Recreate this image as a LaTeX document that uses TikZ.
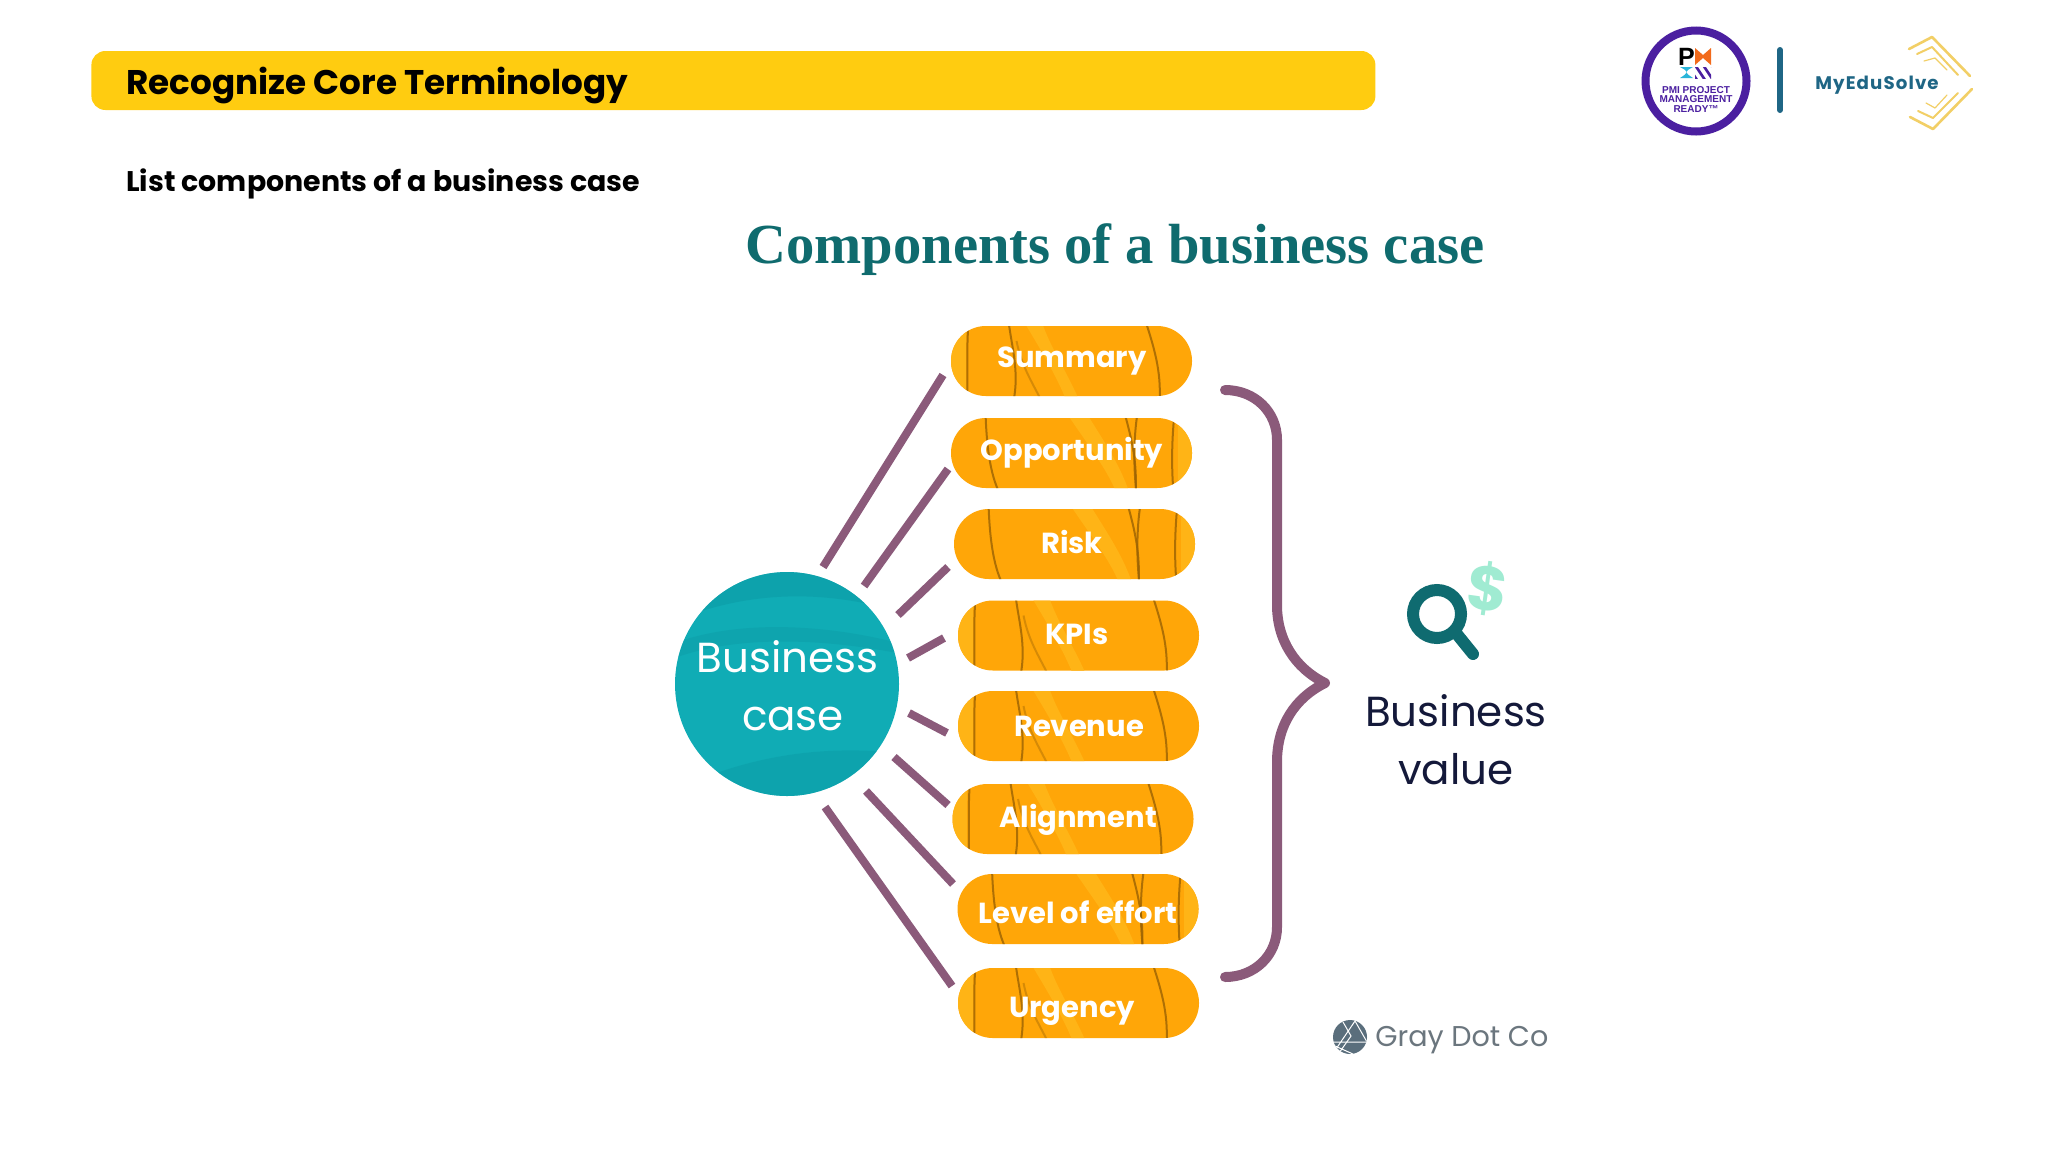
\documentclass[tikz,border=0pt]{standalone}
\usepackage{fontspec}
\setmainfont{Poppins}
\newfontfamily\serifhead{Liberation Serif}
\newfontfamily\arialish{Liberation Sans}
\newfontfamily\spaced[LetterSpace=6]{Poppins}
\definecolor{barY}{HTML}{FFCC10}
\definecolor{titleT}{HTML}{0F6B6E}
\definecolor{pillO}{HTML}{FFA608}
\definecolor{pillL}{HTML}{FFB416}
\definecolor{pillD}{HTML}{9A6204}
\definecolor{plum}{HTML}{8B5A7A}
\definecolor{tealC}{HTML}{10ACB5}
\definecolor{tealD}{HTML}{0C9CA6}
\definecolor{iconT}{HTML}{0F6B70}
\definecolor{mint}{HTML}{A0EBD2}
\definecolor{inkD}{HTML}{14193A}
\definecolor{grayT}{HTML}{6B767E}
\definecolor{grayL}{HTML}{5A6E7C}
\definecolor{pmiP}{HTML}{4B1FA0}
\definecolor{pmiO}{HTML}{F26A1B}
\definecolor{pmiC}{HTML}{2AB5D9}
\definecolor{eduB}{HTML}{1F6685}
\definecolor{eduY}{HTML}{F2CF66}
\newcommand{\texA}{%
  \fill[pillL] (-121,-40) rectangle (-106,40);
  \fill[pillL] (-48,-40) .. controls (-30,-10) and (-15,15) .. (-5,40) -- (8,40) .. controls (-5,10) and (-22,-15) .. (-30,-40) -- cycle;
  \draw[tex] (-103,-40) .. controls (-105,-10) and (-104,10) .. (-104,40);
  \draw[tex] (-63,-40) .. controls (-60,-15) and (-52,10) .. (-58,40);
  \draw[tex,opacity=.4] (-55,-20) .. controls (-50,5) and (-40,20) .. (-30,40);
  \draw[tex] (74,-40) .. controls (82,-15) and (90,10) .. (88,40);
}
\newcommand{\texB}{%
  \fill[pillL] (106,-40) rectangle (122,40);
  \fill[pillL] (-5,-40) .. controls (15,-10) and (35,15) .. (45,40) -- (58,40) .. controls (48,10) and (30,-15) .. (15,-40) -- cycle;
  \draw[tex] (-86,-40) .. controls (-85,-10) and (-82,20) .. (-72,40);
  \draw[tex] (53,-40) .. controls (60,-15) and (66,10) .. (64,40);
  \draw[tex] (66,-40) .. controls (62,-15) and (62,15) .. (65,40);
  \draw[tex] (103,-40) .. controls (100,-10) and (100,15) .. (102,40);
}
\tikzset{
  x=0.5pt,y=-0.5pt,
  tex/.style={pillD,line width=1pt,opacity=.8},
  pill/.style={rectangle,rounded corners=17.4pt,fill=pillO,minimum width=120.5pt,minimum height=35pt,inner sep=0pt,
    path picture={\begin{scope}[sharp corners,shift={(path picture bounding box.center)}]#1\end{scope}}},
  pilltext/.style={anchor=base,inner sep=0pt,text=white,font=\bfseries\fontsize{14.5}{18}\selectfont},
  spoke/.style={plum,line width=4pt},
  brace/.style={plum,line width=5pt,line cap=round,line join=round},
  chev/.style={eduY,line cap=round,line join=round},
  big/.style={font=\fontsize{21}{25}\selectfont,inner sep=0pt},
}
\begin{document}
\begin{tikzpicture}
\useasboundingbox[fill=white] (0,0) rectangle (2048,1152);
% header
\node[fill=barY,rounded corners=7pt,minimum width=642pt,minimum height=29.5pt,inner sep=0pt,anchor=west] (bar) at (91,80.5) {};
\node[anchor=west,inner sep=0pt,font=\bfseries\fontsize{17.1}{22}\selectfont] (head) at (126,86) {Recognize Core Terminology};
\node[anchor=west,inner sep=0pt,font=\bfseries\fontsize{14.2}{18}\selectfont] (sub) at (126,184) {List components of a business case};
\node[inner sep=0pt,text=titleT,font=\serifhead\bfseries\fontsize{28.3}{32}\selectfont] (title) at (1115,250) {Components of a business case};
% pills
\node[pill=\texA] (p1) at (1071.5,361) {};
\node[pill=\texB] (p2) at (1071.5,453) {};
\node[pill=\texB] (p3) at (1074.5,544) {};
\node[pill=\texA] (p4) at (1078.5,635.5) {};
\node[pill=\texA] (p5) at (1078.5,726) {};
\node[pill=\texA] (p6) at (1073,819) {};
\node[pill=\texB] (p7) at (1078,909) {};
\node[pill=\texA] (p8) at (1078.5,1003) {};
\node[pilltext] (t1) at (1072,367) {Summary};
\node[pilltext] (t2) at (1072,460) {Opportunity};
\node[pilltext] (t3) at (1072,553) {Risk};
\node[pilltext] (t4) at (1077,644) {KPIs};
\node[pilltext] (t5) at (1079,736) {Revenue};
\node[pilltext] (t6) at (1078,827) {Alignment};
\node[pilltext] (t7) at (1078,923) {Level of effort};
\node[pilltext] (t8) at (1072,1017) {Urgency};
% circle
\node[circle,fill=tealC,minimum size=112pt,inner sep=0pt,
  path picture={\begin{scope}[shift={(path picture bounding box.center)}]
    \fill[tealD,opacity=.6] (-120,-60) .. controls (-40,-95) and (40,-95) .. (120,-70) -- (120,-120) -- (-120,-120) -- cycle;
    \fill[tealD,opacity=.5] (-120,110) .. controls (-40,70) and (40,60) .. (120,70) -- (120,120) -- (-120,120) -- cycle;
    \fill[tealD,opacity=.45] (-115,-25) .. controls (-50,-50) and (40,-45) .. (115,-30) -- (115,-40) .. controls (40,-60) and (-50,-65) .. (-115,-40) -- cycle;
  \end{scope}}] (bc) at (787,684) {};
\node[big,text=white] (bc1) at (787.5,657) {Business};
\node[big,text=white] (bc2) at (793,719) {case};
% spokes
\foreach \n/\ax/\ay/\bx/\by in {1/823/567/943/375,2/864/586/948/469,3/898/615/948/567,4/908/658/944/638,5/909/713/947/733,6/894/757/948/805,7/866/791/953/884,8/825/807/952/986}{
  \coordinate (sa\n) at (\ax,\ay);
  \coordinate (sb\n) at (\bx,\by);
  \draw[spoke] (sa\n) -- (sb\n);
}
% brace
\coordinate (brT) at (1225,390);
\coordinate (brM) at (1325,683);
\coordinate (brB) at (1225,977);
\draw[brace] (brT) .. controls (1255,390) and (1277,412) .. (1277,440)
  -- (1277,605) .. controls (1277,640) and (1295,668) .. (brM)
  .. controls (1295,698) and (1277,725) .. (1277,762)
  -- (1277,927) .. controls (1277,955) and (1255,977) .. (brB);
% value icon
\draw[iconT,line width=6pt] (1437,614) circle[radius=24];
\draw[iconT,line width=6pt,line cap=round] (1456,633) -- (1473,654);
\node[inner sep=0pt,text=mint,rotate=-8,font=\bfseries\fontsize{31}{36}\selectfont] (dollar) at (1488,589) {\$};
\node[big,text=inkD] (bv1) at (1456,711) {Business};
\node[big,text=inkD] (bv2) at (1456,769) {value};
% gray dot
\fill[grayL] (1350,1037) circle[radius=17];
\begin{scope}
\clip (1350,1037) circle[radius=17];
\draw[white,line width=.5pt] (1336,1049) -- (1355,1021) -- (1367,1042) -- (1334,1042);
\draw[white,line width=.5pt] (1343,1022) -- (1351,1036) -- (1339,1053);
\draw[white,line width=.5pt] (1335,1046) -- (1353,1054);
\end{scope}
\node[anchor=west,inner sep=0pt,text=grayT,font=\fontsize{14.3}{18}\selectfont] (gd) at (1375,1040) {Gray Dot Co};
% PMI badge
\draw[pmiP,line width=4pt] (1696,81) circle[radius=50.5];
\node[inner sep=0pt,font=\arialish\bfseries\fontsize{12.5}{12}\selectfont] (pmP) at (1686.5,56.5) {P};
\fill[pmiO] (1695,48) -- (1703,55) -- (1711,48) -- (1711,65) -- (1703,58) -- (1695,65) -- cycle;
\fill[pmiC] (1680,67) -- (1693,67) .. controls (1684,72) .. (1693,78) -- (1680,78) .. controls (1689,72) .. (1680,67) -- cycle;
\begin{scope}
\clip (1695,67) rectangle (1711,78);
\foreach \d in {-8,0,8,16}{\draw[pmiP,line width=1.3pt] (1695+\d,65) -- (1705+\d,80);}
\end{scope}
\node[inner sep=0pt,text=pmiP,font=\arialish\bfseries\fontsize{5}{6}\selectfont] (pm1) at (1696,90) {PMI PROJECT};
\node[inner sep=0pt,text=pmiP,font=\arialish\bfseries\fontsize{5}{6}\selectfont] (pm2) at (1696,99.5) {MANAGEMENT};
\node[inner sep=0pt,text=pmiP,font=\arialish\bfseries\fontsize{5}{6}\selectfont] (pm3) at (1696,109) {READY™};
% divider
\draw[eduB,line width=3pt,line cap=round] (1780,50) -- (1780,110);
\node[anchor=west,inner sep=0pt,text=eduB,font=\spaced\bfseries\fontsize{9.1}{12}\selectfont] (edu) at (1815,85) {MyEduSolve};
% chevrons
\draw[chev,line width=1.3pt] (1909,49) -- (1932,37) -- (1970,76);
\draw[chev,line width=1.3pt] (1972,89) -- (1933,129) -- (1910,117);
\draw[chev,line width=1pt] (1917,54) -- (1932,47) -- (1958,75);
\draw[chev,line width=1pt] (1958,93) -- (1933,118) -- (1918,111);
\draw[chev,line width=.6pt] (1924,61) -- (1935,58) -- (1947,70);
\draw[chev,line width=.6pt] (1947,95) -- (1935,108) -- (1926,103);
\end{tikzpicture}
\end{document}
